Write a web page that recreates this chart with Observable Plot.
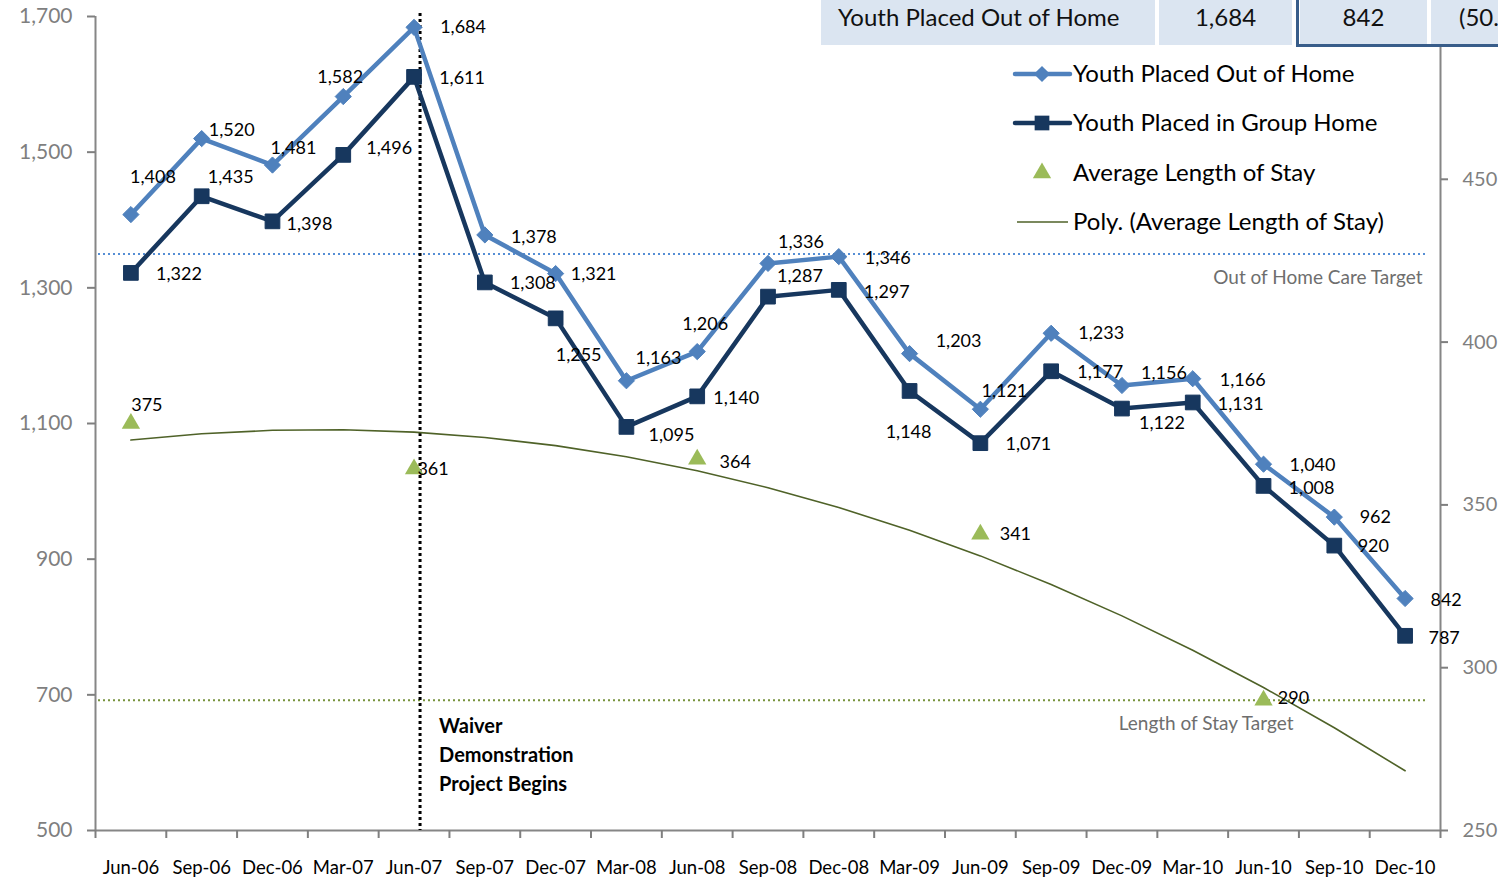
<!DOCTYPE html>
<html><head><meta charset="utf-8">
<script src="https://cdn.jsdelivr.net/npm/d3@7"></script>
<script src="https://cdn.jsdelivr.net/npm/@observablehq/plot@0.6"></script>
<style>
body{margin:0;background:#fff;font-family:Lato,"Open Sans",sans-serif;}
#wrap{position:relative;width:1498px;height:880px;overflow:hidden;background:#fff;}
#chart{position:absolute;left:0;top:0;}
#table{position:absolute;left:0;top:0;width:1498px;height:48px;}
.cell{position:absolute;top:0;height:45px;background:#dbe5f1;font-size:24px;line-height:34px;color:#111;white-space:nowrap;overflow:hidden;}
#box{position:absolute;left:1296px;top:-4px;width:220px;height:51px;border:3px solid #385d8a;box-sizing:border-box;border-right:none;}
#legend{position:absolute;left:1005px;top:55px;}
</style></head><body>
<div id="wrap">
  <div id="chart"></div>
  <div id="table"></div>
  <svg id="legend" width="440" height="190"></svg>
</div>
<script>
// ---- data ----
const quarters = ["Jun-06","Sep-06","Dec-06","Mar-07","Jun-07","Sep-07","Dec-07","Mar-08","Jun-08","Sep-08","Dec-08","Mar-09","Jun-09","Sep-09","Dec-09","Mar-10","Jun-10","Sep-10","Dec-10"];
const outOfHome = [1408,1520,1481,1582,1684,1378,1321,1163,1206,1336,1346,1203,1121,1233,1156,1166,1040,962,842];
const groupHome = [1322,1435,1398,1496,1611,1308,1255,1095,1140,1287,1297,1148,1071,1177,1122,1131,1008,920,787];
const losQuarters = ["Jun-06","Jun-07","Jun-08","Jun-09","Jun-10"];
const losValues = [375,361,364,341,290];
const leftTicks = [500,700,900,1100,1300,1500,1700];
const rightTicks = [250,300,350,400,450];
const outOfHomeTarget = 1350;
const losTarget = 290;
const waiverQuarter = "Jun-07";
const waiverText = "Waiver\nDemonstration\nProject Begins";
const tableCells = ["Youth Placed Out of Home","1,684","842","(50."];
const legendItems = ["Youth Placed Out of Home","Youth Placed in Group Home","Average Length of Stay","Poly. (Average Length of Stay)"];

// label offsets (px) for data labels
const oohOffsets = [[22,-37],[30,-8],[21,-17],[-3,-19],[49,0],[49,2],[38,1],[32,-23],[8,-27],[33,-21],[49,2],[49,-12],[24,-18],[50,0],[42,-12],[50,2],[49,1],[41,0],[41,2]];
const ghOffsets = [[48,1],[29,-19],[37,3],[46,-7],[48,1],[48,1],[23,37],[45,8],[39,2],[32,-20],[48,2],[-1,41],[48,1],[49,1],[40,15],[48,2],[48,2],[39,1],[39,2]];
const losOffsets = [[16,-18],[19,0],[38,3],[35,0],[30,-2]];

const C = {ooh:"#4f81bd", gh:"#17375e", los:"#9bbb59", trend:"#4f6228", axis:"#868686", tick:"#7f7f7f"};
const fmt = d3.format(",");
const L0 = 500, L1 = 1700, R0 = 250, R1 = 500;
const toLeft = v => L0 + (v - R0) * (L1 - L0) / (R1 - R0);
const toRight = v => R0 + (v - L0) * (R1 - R0) / (L1 - L0);

// quadratic least-squares trend (Excel "Poly." order 2)
const losIdx = losQuarters.map(q => quarters.indexOf(q));
function quadFit(xs, ys) {
  const S = k => d3.sum(xs, x => x ** k);
  const T = k => d3.sum(xs, (x, j) => x ** k * ys[j]);
  const A = [[S(0),S(1),S(2),T(0)],[S(1),S(2),S(3),T(1)],[S(2),S(3),S(4),T(2)]];
  for (let c = 0; c < 3; c++) {
    for (let r = c + 1; r < 3; r++) {
      const f = A[r][c] / A[c][c];
      for (let k = c; k < 4; k++) A[r][k] -= f * A[c][k];
    }
  }
  const b = [0,0,0];
  for (let r = 2; r >= 0; r--) {
    let s = A[r][3];
    for (let k = r + 1; k < 3; k++) s -= A[r][k] * b[k];
    b[r] = s / A[r][r];
  }
  return b;
}
const coef = quadFit(losIdx, losValues);
const trend = quarters.map((q, i) => ({i, v: toLeft(coef[0] + coef[1] * i + coef[2] * i * i)}));

const ooh = outOfHome.map((v, i) => ({i, v}));
const gh = groupHome.map((v, i) => ({i, v}));
const los = losValues.map((v, j) => ({i: losIdx[j], v: toLeft(v), raw: v}));
const n = quarters.length;
const boundaries = d3.range(n + 1).map(k => k - 0.5);

const labelMarks = [];
ooh.forEach((d, k) => labelMarks.push(Plot.text([d], {x:"i", y:"v", text: d => fmt(d.v), dx: oohOffsets[k][0], dy: oohOffsets[k][1], fontSize: 18, fill:"#000"})));
gh.forEach((d, k) => labelMarks.push(Plot.text([d], {x:"i", y:"v", text: d => fmt(d.v), dx: ghOffsets[k][0], dy: ghOffsets[k][1], fontSize: 18, fill:"#000"})));
los.forEach((d, k) => labelMarks.push(Plot.text([d], {x:"i", y:"v", text: d => fmt(d.raw), dx: losOffsets[k][0], dy: losOffsets[k][1], fontSize: 18, fill:"#000"})));

const plot = Plot.plot({
  width: 1498, height: 880,
  marginLeft: 95, marginRight: 58, marginTop: 16, marginBottom: 50,
  style: {fontFamily: "Lato, 'Open Sans', sans-serif", background: "white", overflow: "visible"},
  x: {domain: [-0.5, n - 0.5], axis: null},
  y: {domain: [L0, L1], axis: null},
  marks: [
    Plot.ruleY([outOfHomeTarget], {stroke: "#558ed5", strokeWidth: 2, strokeDasharray: "2,3", insetLeft: 3, insetRight: 15}),
    Plot.ruleY([toLeft(losTarget)], {stroke: "#77933c", strokeWidth: 2, strokeDasharray: "2,3", insetLeft: 3, insetRight: 15}),
    Plot.text(["Out of Home Care Target"], {x: n - 0.5, y: outOfHomeTarget, dx: -18, dy: 24, textAnchor: "end", fill: "#6e6e6e", fontSize: 19}),
    Plot.text(["Length of Stay Target"], {x: quarters.indexOf("Jun-10"), y: toLeft(losTarget), dx: 30, dy: 24, textAnchor: "end", fill: "#6e6e6e", fontSize: 19}),
    // axes lines
    Plot.ruleX([-0.5], {stroke: C.axis, strokeWidth: 2}),
    Plot.ruleX([n - 0.5], {stroke: C.axis, strokeWidth: 2}),
    Plot.ruleY([L0], {stroke: C.axis, strokeWidth: 2}),
    Plot.axisY({ticks: leftTicks, tickFormat: d => fmt(d), label: null, tickSize: 8, tickPadding: 15, fontSize: 21, color: C.tick, strokeWidth: 2}),
    Plot.axisY({anchor: "right", ticks: rightTicks.map(toLeft), tickFormat: d => fmt(Math.round(toRight(d))), label: null, tickSize: 7, tickPadding: 15, fontSize: 20, color: C.tick, strokeWidth: 2}),
    Plot.axisX({ticks: boundaries, tickFormat: () => "", label: null, tickSize: 8, color: C.tick, strokeWidth: 2}),
    Plot.axisX({ticks: d3.range(n), tickFormat: i => quarters[i], label: null, tickSize: 0, tickPadding: 30, fontSize: 18.5, color: "#000"}),
    // waiver line
    Plot.ruleX([quarters.indexOf(waiverQuarter)], {dx: 6, stroke: "#000", strokeWidth: 3, strokeDasharray: "3,3", insetTop: -3}),
    Plot.text([waiverText], {x: quarters.indexOf(waiverQuarter), y: L0, dx: 25, dy: -40, textAnchor: "start", lineAnchor: "bottom", lineHeight: 1.45, fontWeight: "bold", fontSize: 20, fill: "#000"}),
    // trend
    Plot.line(trend, {x: "i", y: "v", stroke: C.trend, strokeWidth: 1.6}),
    // series
    Plot.line(ooh, {x: "i", y: "v", stroke: C.ooh, strokeWidth: 4.5}),
    Plot.dot(ooh, {x: "i", y: "v", symbol: "diamond2", r: 7.3, fill: C.ooh, stroke: C.ooh, strokeWidth: 1}),
    Plot.line(gh, {x: "i", y: "v", stroke: C.gh, strokeWidth: 4.5}),
    Plot.dot(gh, {x: "i", y: "v", symbol: "square", r: 8.3, fill: C.gh, stroke: C.gh, strokeWidth: 1}),
    Plot.dot(los, {x: "i", y: "v", symbol: "triangle", r: 6.8, fill: C.los}),
    ...labelMarks
  ]
});
document.getElementById("chart").appendChild(plot);

// table overlay
const tbl = document.getElementById("table");
const cellGeom = [[821,334,"left",17],[1159,133,"center",0],[1300,127,"center",0],[1431,80,"left",28]];
tableCells.forEach((t, k) => {
  const [x, w, al, pad] = cellGeom[k];
  const d = document.createElement("div");
  d.className = "cell";
  d.style.left = x + "px"; d.style.width = w + "px";
  d.style.textAlign = al; d.style.paddingLeft = pad + "px"; d.style.boxSizing = "border-box";
  d.textContent = t;
  tbl.appendChild(d);
});
const box = document.createElement("div"); box.id = "box"; tbl.appendChild(box);

// legend overlay
const lg = d3.select("#legend");
const rows = [19, 68, 118, 167];
const lx0 = 10, lx1 = 65, lcx = 37;
lg.append("line").attr("x1", lx0).attr("x2", lx1).attr("y1", rows[0]).attr("y2", rows[0]).attr("stroke", C.ooh).attr("stroke-width", 4.5).attr("stroke-linecap","round");
lg.append("path").attr("d", d3.symbol(d3.symbolDiamond2, Math.PI * 7.3 * 7.3)()).attr("transform", `translate(${lcx},${rows[0]})`).attr("fill", C.ooh);
lg.append("line").attr("x1", lx0).attr("x2", lx1).attr("y1", rows[1]).attr("y2", rows[1]).attr("stroke", C.gh).attr("stroke-width", 4.5).attr("stroke-linecap","round");
lg.append("path").attr("d", d3.symbol(d3.symbolSquare, Math.PI * 8.3 * 8.3)()).attr("transform", `translate(${lcx},${rows[1]})`).attr("fill", C.gh);
lg.append("path").attr("d", d3.symbol(d3.symbolTriangle, Math.PI * 6.8 * 6.8)()).attr("transform", `translate(${lcx},${rows[2]})`).attr("fill", C.los);
lg.append("line").attr("x1", lx0 + 2).attr("x2", lx1 - 2).attr("y1", rows[3]).attr("y2", rows[3]).attr("stroke", C.trend).attr("stroke-width", 1.6);
legendItems.forEach((t, k) => {
  lg.append("text").attr("x", 68).attr("y", rows[k]).attr("dy", "0.35em").attr("font-size", 24).attr("font-family", "Lato, 'Open Sans', sans-serif").attr("fill", "#000").text(t);
});
</script>
</body></html>
